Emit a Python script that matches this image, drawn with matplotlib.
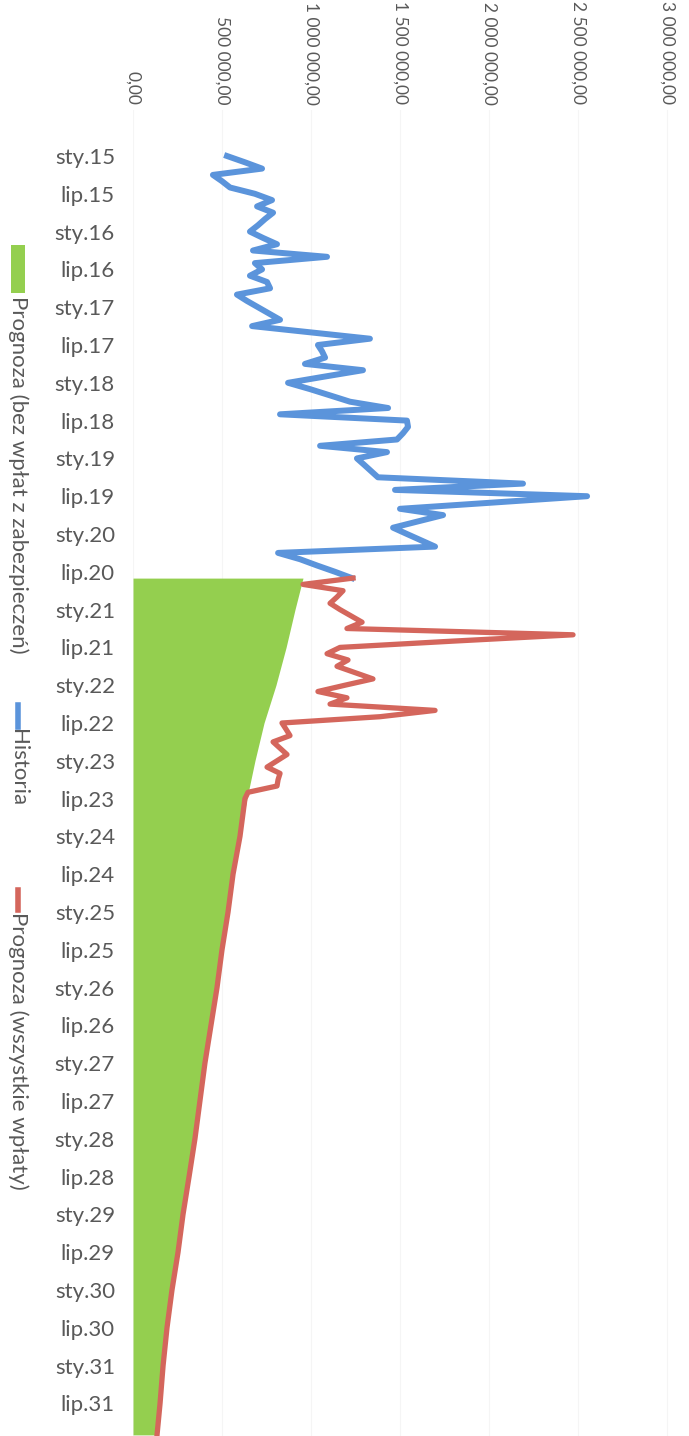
import matplotlib
matplotlib.use('Agg')
import matplotlib.pyplot as plt
from matplotlib.patches import Rectangle
from matplotlib.lines import Line2D

plt.rcParams['font.family'] = ['Lato', 'DejaVu Sans']

# month index 0 = sty.15 (Jan 2015)
tick_pos = list(range(0, 199, 6))
tick_labels = ['%s.%d' % (m, y) for y in range(15, 32) for m in ('sty', 'lip')]
value_ticks = [0, 500000, 1000000, 1500000, 2000000, 2500000, 3000000]

historia = [528000, 629000, 725000, 449000, 500000, 545000, 685000, 781000, 697000, 787000,
            742000, 702000, 657000, 730000, 809000, 674000, 1090000, 685000, 725000, 657000,
            753000, 770000, 584000, 640000, 702000, 764000, 826000, 669000, 1000000, 1331000,
            1039000, 1062000, 1079000, 966000, 1292000, 1079000, 871000, 994000, 1107000, 1219000,
            1433000, 826000, 1539000, 1545000, 1517000, 1483000, 1051000, 1427000, 1258000, 1298000,
            1337000, 1376000, 2191000, 1472000, 2551000, 2028000, 1500000, 1742000, 1601000, 1461000,
            1539000, 1618000, 1697000, 815000, 938000, 1034000, 1135000, 1230000]

# forecast with all payments, monthly from month 67
prognoza_wsz = [1236000, 955000, 1180000, 1146000, 1107000, 1163000, 1225000, 1287000, 1202000, 2472000,
                1800000, 1163000, 1090000, 1208000, 1146000, 1247000, 1348000, 1191000, 1039000, 1202000,
                1107000, 1697000, 1388000, 837000, 860000, 882000, 787000, 826000, 865000, 809000,
                753000, 826000, 815000, 809000, 646000, 629000]

# forecast without security payments, read every half year
prog_months = [67, 72, 78, 84, 90, 96, 102, 108, 114, 120, 126, 132, 138, 144, 150, 156,
               162, 168, 174, 180, 186, 192, 198, 203]
prognoza_bez = [955000, 910000, 860000, 803000, 736000, 685000, 640000, 601000, 562000, 534000,
                500000, 472000, 438000, 404000, 376000, 348000, 315000, 281000, 253000, 219000,
                191000, 169000, 152000, 135000]

W, H = 689, 1436
fig = plt.figure(figsize=(W / 100, H / 100), dpi=100)
ax = fig.add_axes([133 / W, 0, 1 - 133 / W, 1 - 110 / H])

hist_x = list(range(len(historia)))
wsz_x = list(range(67, 67 + len(prognoza_wsz)))
# after mid 2023 both forecasts are the same line
tail_x = wsz_x + [m for m in prog_months if m > wsz_x[-1]]
tail_v = prognoza_wsz + [v for m, v in zip(prog_months, prognoza_bez) if m > wsz_x[-1]]

ax.fill_betweenx(prog_months, 0, prognoza_bez, color='#94cf4f', lw=0, zorder=1)
ax.plot(historia, hist_x, color='#5b94db', lw=4.3, solid_joinstyle='round', zorder=3)
ax.plot(tail_v, tail_x, color='#d4665c', lw=3.8, solid_joinstyle='round', zorder=3)

ax.set_xlim(0, (W - 133) / 178 * 1e6)
ax.set_ylim((H - 156) / 6.3, (110 - 156) / 6.3)

ax.xaxis.tick_top()
ax.set_xticks(value_ticks)
ax.set_xticklabels([('{:,.2f}'.format(v)).replace(',', ' ').replace('.', ',') for v in value_ticks],
                   rotation=-90, fontsize=12.5, color='#595959')
ax.set_yticks(tick_pos)
ax.set_yticklabels(tick_labels, fontsize=16, color='#595959')
ax.tick_params(axis='x', length=0, pad=4)
ax.tick_params(axis='y', length=0, pad=13)
ax.grid(axis='x', color='#f5f5f5', lw=0.8)
ax.set_axisbelow(True)
for s in ax.spines.values():
    s.set_visible(False)

# legend, drawn rotated along the left edge
lg = fig.add_axes([0, 0, 1, 1])
lg.set_xlim(0, W)
lg.set_ylim(H, 0)
lg.axis('off')
lg.patch.set_alpha(0)
lg.add_patch(Rectangle((11, 245), 14, 48, color='#94cf4f', lw=0))
lg.add_line(Line2D([18, 18], [705, 727], color='#5b94db', lw=4))
lg.add_line(Line2D([18, 18], [890, 910], color='#d4665c', lw=4))
txt = dict(rotation=-90, rotation_mode='anchor', ha='left', va='center', fontsize=16, color='#595959')
lg.text(18, 296, 'Prognoza (bez wpłat z zabezpieczeń)', **txt)
lg.text(18, 729, 'Historia', **txt)
lg.text(18, 912, 'Prognoza (wszystkie wpłaty)', **txt)

fig.savefig('out.png', dpi=100)
